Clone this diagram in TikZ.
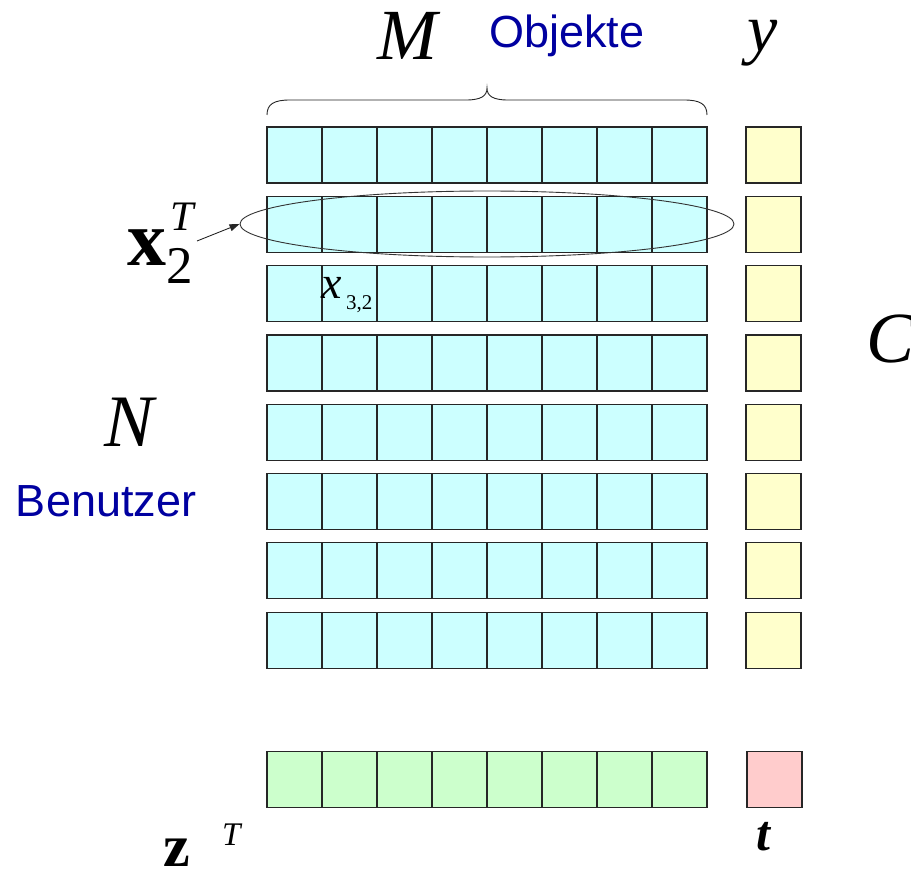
\documentclass[tikz,border=0pt]{standalone}
\usepackage{fontspec}
\setmainfont{Liberation Serif}
\newfontfamily\arialf{Liberation Sans}
\usetikzlibrary{shapes.geometric,arrows.meta}
\definecolor{cellblue}{RGB}{204,255,255}
\definecolor{cellyellow}{RGB}{255,255,204}
\definecolor{cellgreen}{RGB}{204,255,204}
\definecolor{cellpink}{RGB}{255,204,204}
\definecolor{txtblue}{RGB}{0,0,160}
\newcommand\fsz[1]{\fontsize{#1}{#1}\selectfont}
\tikzset{
  cell/.style={draw=black!85, line width=1.2pt, minimum width=55pt, minimum height=56pt, inner sep=0pt, outer sep=0pt},
  lbl/.style={inner sep=0pt, outer sep=0pt, anchor=base west},
  bluetxt/.style={lbl, text=txtblue, font=\arialf\fsz{45}},
}
\begin{document}
\begin{tikzpicture}[x=1pt,y=-1pt]
\useasboundingbox (0,0) rectangle (911,872);
% main matrix
\foreach \i in {0,...,7}{
  \foreach \j in {0,...,7}{
    \node[cell, fill=cellblue] (c-\i-\j) at (294.5+55*\j, 155+69.3*\i) {};
  }
  \node[cell, fill=cellyellow] (y-\i) at (773.5, 155+69.3*\i) {};
}
% bottom row
\foreach \j in {0,...,7}{
  \node[cell, fill=cellgreen] (z-\j) at (294.5+55*\j, 779.5) {};
}
\node[cell, fill=cellpink] (t) at (774.5, 779.5) {};
% brace
\draw[line width=0.9pt, black!85] (267,115) .. controls (267,104) and (274,100) .. (290,100) -- (466,100) .. controls (481,100) and (487,96) .. (487,88) .. controls (487,96) and (493,100) .. (508,100) -- (684,100) .. controls (700,100) and (707,104) .. (707,115);
% ellipse
\node[ellipse, draw=black!80, line width=0.9pt, minimum width=494pt, minimum height=66pt, inner sep=0pt] (ell) at (487,224) {};
% labels
\node[lbl, font=\itshape\fsz{72}] (M) at (377,60) {M};
\node[bluetxt] (obj) at (489,48) {Objekte};
\node[lbl, font=\itshape\fsz{68}] (ylab) at (747,52) {y};
\node[lbl, font=\bfseries\fsz{78}] (x2) at (127,265) {x};
\node[lbl, font=\fsz{53}] (x2s) at (166,283) {2};
\node[lbl, font=\itshape\fsz{42}] (x2T) at (170,230) {T};
\coordinate (a0) at (197,241);
\draw[line width=0.9pt, black!85, -{Triangle[length=10pt,width=7pt]}] (a0) -- (ell.west);
\node[lbl, font=\itshape\fsz{46}] (x32) at (321,298) {x};
\node[lbl, font=\fsz{21}] (x32s) at (346,309) {3,2};
\node[lbl, font=\itshape\fsz{74}] (N) at (104,446) {N};
\node[bluetxt] (ben) at (16,516) {Benutzer};
\node[lbl, font=\itshape\fsz{72}] (C) at (866,362) {C};
\node[lbl, font=\bfseries\fsz{60}] (zlab) at (163,866) {z};
\node[lbl, font=\itshape\fsz{33}] (zT) at (222,845) {T};
\node[lbl, font=\bfseries\itshape\fsz{50}] (tlab) at (756,850) {t};
\end{tikzpicture}
\end{document}
